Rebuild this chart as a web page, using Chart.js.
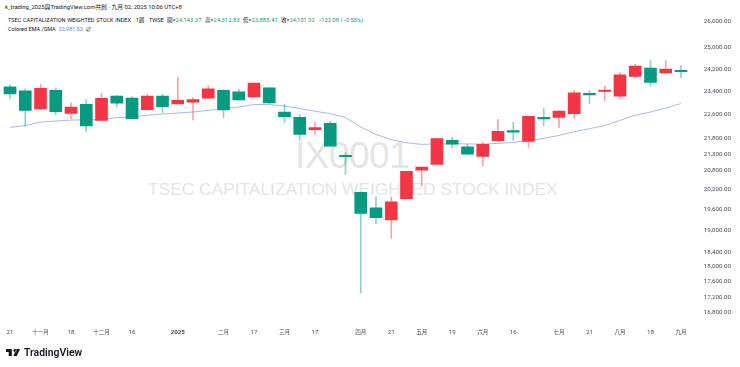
<!DOCTYPE html>
<html>
<head>
<meta charset="utf-8">
<title>IX0001</title>
<script src="https://cdn.jsdelivr.net/npm/chart.js@4"></script>
<style>
body { margin: 0; background: #fff; font-family: Roboto, "Noto Sans CJK TC", sans-serif; color: #131722; }
#wrap { position: relative; width: 740px; height: 367px; overflow: hidden; }
#wrap div, #wrap svg, #wrap canvas { position: absolute; white-space: nowrap; }
#byline { left: 5px; top: 2px; font-size: 5.85px; line-height: 11px; }
#info { left: 8px; top: 15px; font-size: 5.55px; line-height: 10px; word-spacing: 0.25px; }
#sma-info { left: 8px; top: 24px; font-size: 5.55px; line-height: 10px; }
#info span { color: #089981; letter-spacing: 0.2px; }
#info span:last-child { letter-spacing: 0.08px; }
#sma-info span { color: #5b7fe0; }
#wm1 { left: 295px; top: 131px; font-family: "Liberation Sans", sans-serif; font-size: 37px; line-height: 50px; letter-spacing: -0.5px; color: #e5e5e5; }
#wm2 { left: 148px; top: 177px; font-family: "Liberation Sans", sans-serif; font-size: 17.35px; line-height: 24px; color: #e5e5e5; }
#logo { left: 6px; top: 349px; }
#brand { left: 24px; top: 344px; font-size: 10.4px; line-height: 17px; font-weight: 600; color: #131722; }
</style>
</head>
<body>
<div id="wrap">
    <div id="byline">k_trading_2025與TradingView.com共創 · 九月 02, 2025 10:06 UTC+8</div>
    <div id="info">TSEC CAPITALIZATION WEIGHTED STOCK INDEX · 1週 · TWSE &nbsp;開=<span>24,143.37</span> &nbsp;高=<span>24,312.83</span> &nbsp;低=<span>23,885.41</span> &nbsp;收=<span>24,101.02 &nbsp;−132.08 (−0.55%)</span></div>
    <div id="sma-info">Colored EMA /SMA &nbsp;<span>22,981.53</span> &nbsp;∅</div>
    <div id="wm1">IX0001</div>
    <div id="wm2">TSEC CAPITALIZATION WEIGHTED STOCK INDEX</div>
    <canvas id="chart" width="740" height="367"></canvas>
    <svg id="logo" width="14" height="7" viewBox="0 0 36 18"><path fill="#131722" d="M0 0h15v18H7V8H0zM19 4a4 4 0 1 0 0-.01zM27 0h9l-8 18h-9z"/></svg>
    <div id="brand">TradingView</div>
</div>
<script>
const tickLabels = ["21", "", "十一月", "", "18", "", "十二月", "", "16", "", "", "2025", "", "", "二月", "", "17", "", "三月", "", "17", "", "", "四月", "", "21", "", "五月", "", "19", "", "六月", "", "16", "", "", "七月", "", "21", "", "八月", "", "18", "", "九月"];
const opens = [23558, 23417, 22793, 23441, 22646, 22954, 22409, 23242, 23172, 22772, 23242, 22965, 23023, 23162, 23441, 23382, 23207, 23523, 22690, 22510, 22098, 22309, 21262, 20122, 19656, 19304, 19932, 20797, 20976, 21746, 21542, 21230, 21736, 22042, 21714, 22510, 22510, 22636, 23336, 23396, 23232, 23929, 24229, 24059, 24143.37];
const highs = [23643, 23487, 23654, 23523, 23000, 23116, 23336, 23266, 23221, 23301, 23301, 23904, 23186, 23608, 23466, 23476, 23700, 23548, 22952, 22602, 22352, 22376, 21348, 20128, 19992, 19992, 20772, 20900, 21812, 21845, 21626, 21691, 22443, 22342, 22550, 22806, 22730, 23441, 23441, 23583, 24073, 24365, 24510, 24521, 24312.83];
const lows = [23137, 22218, 22772, 22602, 22467, 22032, 22399, 22862, 22453, 22758, 22680, 22954, 22419, 23151, 22487, 23092, 23197, 22989, 22332, 21746, 21934, 21552, 20673, 17306, 19190, 18779, 19925, 20304, 20966, 21510, 21294, 20935, 21723, 21746, 21519, 22232, 22165, 22477, 22965, 23068, 23127, 23893, 23594, 24048, 23885.41];
const closes = [23312, 22748, 23512, 22704, 22862, 22219, 23162, 22989, 22467, 23242, 22875, 23092, 23116, 23487, 22758, 23102, 23690, 23000, 22535, 21943, 22165, 21561, 21221, 19497, 19372, 19834, 20766, 20892, 21802, 21626, 21304, 21616, 22042, 22019, 22544, 22453, 22724, 23347, 23277, 23441, 23987, 24302, 23714, 24192, 24101.02];
const smaValues = [22175, 22232, 22352, 22385, 22419, 22426, 22433, 22500, 22521, 22578, 22622, 22656, 22690, 22748, 22793, 22862, 22945, 22945, 22896, 22807, 22714, 22636, 22500, 22185, 21943, 21769, 21669, 21616, 21632, 21639, 21632, 21626, 21649, 21681, 21746, 21812, 21910, 22032, 22132, 22232, 22409, 22578, 22690, 22827, 22981.53];
const yTicks = [26000, 25000, 24200, 23400, 22600, 21800, 21300, 20800, 20200, 19600, 19000, 18400, 18000, 17600, 17200, 16800];

const bodyColors = opens.map((o, i) => closes[i] >= o ? "#f23645" : "#089981");
const wickColors = opens.map((o, i) => closes[i] >= o ? "rgba(242,54,69,0.45)" : "rgba(8,153,129,0.45)");

new Chart(document.getElementById("chart"), {
    type: "bar",
    data: {
        labels: tickLabels,
        datasets: [
            {
                label: "Body",
                data: opens.map((o, i) => [o, closes[i]]),
                backgroundColor: bodyColors,
                barThickness: 12,
                minBarLength: 1.5,
                grouped: false,
                order: 1
            },
            {
                label: "Wick",
                data: lows.map((l, i) => [l, highs[i]]),
                backgroundColor: wickColors,
                barThickness: 1,
                grouped: false,
                order: 2
            },
            {
                type: "line",
                label: "SMA",
                data: smaValues,
                borderColor: "#abb7ee",
                borderWidth: 1,
                pointRadius: 0,
                tension: 0,
                order: 3
            }
        ]
    },
    options: {
        responsive: false,
        animation: false,
        layout: { padding: { left: 2.4, top: 12, right: 9, bottom: 26 } },
        plugins: { legend: { display: false }, tooltip: { enabled: false } },
        scales: {
            x: {
                offset: true,
                border: { display: false },
                grid: { display: false, drawTicks: false },
                afterFit: s => { s.height = 18; },
                ticks: {
                    autoSkip: false,
                    maxRotation: 0,
                    padding: 6,
                    color: "#4a4e5a",
                    font: ctx => {
                        const label = ctx.tick ? ctx.tick.label : "";
                        return {
                            family: 'Roboto, "Noto Sans CJK TC", sans-serif',
                            size: /月/.test(label) ? 5.6 : 6.2,
                            weight: label === "2025" ? "bold" : "normal"
                        };
                    }
                }
            },
            y: {
                type: "logarithmic",
                position: "right",
                min: 16546,
                max: 26354,
                border: { display: false },
                grid: { display: false, drawTicks: false },
                afterFit: s => { s.width = 42.4; },
                afterBuildTicks: s => { s.ticks = yTicks.map(v => ({ value: v })); },
                ticks: {
                    autoSkip: false,
                    padding: 0,
                    crossAlign: "far",
                    color: "#4a4e5a",
                    font: { family: "Roboto", size: 6.2 },
                    callback: v => v.toLocaleString("en-US", { minimumFractionDigits: 2 })
                }
            }
        }
    }
});
</script>
</body>
</html>
